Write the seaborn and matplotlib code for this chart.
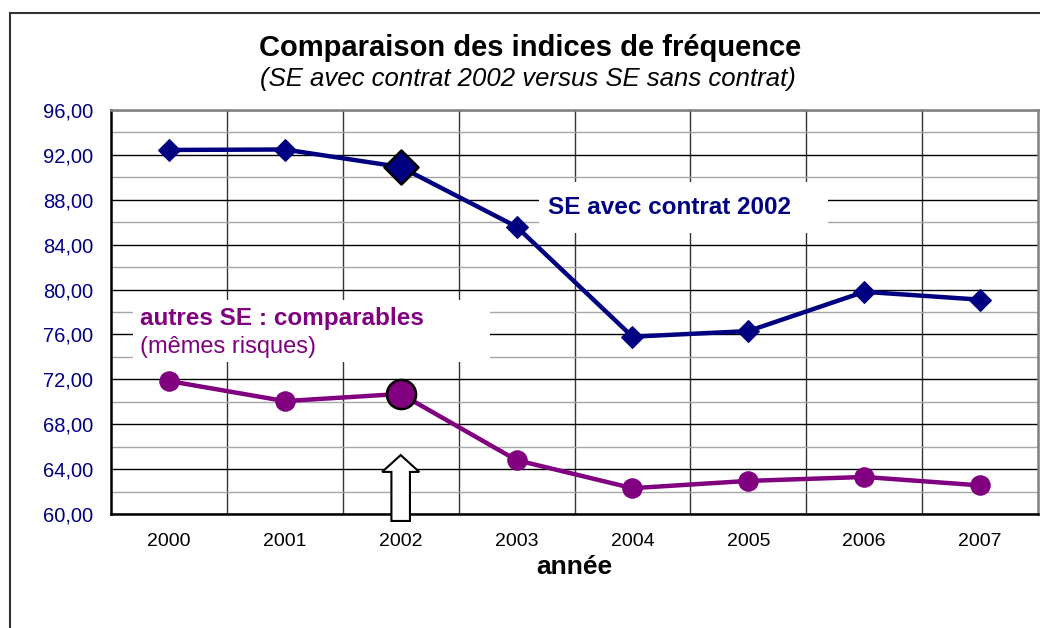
import numpy as np
import pandas as pd
import matplotlib
matplotlib.use("Agg")
import matplotlib.pyplot as plt
import matplotlib.patches as mpatches
from matplotlib.ticker import MultipleLocator, FixedLocator, FuncFormatter
import seaborn as sns

# data
annees = [2000, 2001, 2002, 2003, 2004, 2005, 2006, 2007]
se_avec_contrat = [92.44, 92.48, 90.92, 85.6, 75.8, 76.3, 79.8, 79.1]
autres_se = [71.85, 70.06, 70.7, 64.8, 62.3, 62.95, 63.3, 62.55]
annee_contrat = 2002

titre = "Comparaison des indices de fréquence"
sous_titre = "(SE avec contrat 2002 versus SE sans contrat)"
label_avec = "SE avec contrat 2002"
label_autres = "autres SE : comparables"
label_autres_2 = "(mêmes risques)"

BLEU = "#000080"
VIOLET = "#800080"

sns.set_style("white")
plt.rcParams["font.family"] = ["Liberation Sans", "DejaVu Sans"]
plt.rcParams["text.color"] = "black"
plt.rcParams["axes.labelcolor"] = "black"

df = pd.DataFrame({"annee": annees, "avec": se_avec_contrat, "autres": autres_se})

fig = plt.figure(figsize=(10.4, 6.28), dpi=100)
ax = fig.add_axes([111 / 1040, 1 - 514 / 628, 927 / 1040, 404 / 628])

sns.lineplot(data=df, x="annee", y="avec", color=BLEU, lw=3.2, marker="D",
             markersize=11, markeredgecolor=BLEU, ax=ax, zorder=4)
sns.lineplot(data=df, x="annee", y="autres", color=VIOLET, lw=3.2, marker="o",
             markersize=14, markeredgecolor=VIOLET, ax=ax, zorder=4)

# highlight the contract year
hl = df[df["annee"] == annee_contrat]
sns.scatterplot(x=hl["annee"], y=hl["avec"], marker="D", s=300, color=BLEU,
                edgecolor="black", linewidth=1.8, ax=ax, zorder=5)
sns.scatterplot(x=hl["annee"], y=hl["autres"], marker="o", s=440, color=VIOLET,
                edgecolor="black", linewidth=1.8, ax=ax, zorder=5)

ax.set_xlim(annees[0] - 0.5, annees[-1] + 0.5)
ax.set_ylim(60, 96)

# y axis: black major grid every 4, grey minor every 2
ax.yaxis.set_major_locator(MultipleLocator(4))
ax.yaxis.set_minor_locator(MultipleLocator(2))
ax.yaxis.set_major_formatter(FuncFormatter(lambda v, p: f"{v:.2f}".replace(".", ",")))
ax.grid(which="major", axis="y", color="black", lw=1.0, zorder=0)
ax.grid(which="minor", axis="y", color="#a6a6a6", lw=1.0, zorder=0)

# x axis: labels at centres, ticks and grid at boundaries
ax.xaxis.set_major_locator(FixedLocator(annees))
ax.xaxis.set_minor_locator(FixedLocator([a + 0.5 for a in annees[:-1]]))
ax.grid(which="minor", axis="x", color="#333333", lw=1.0, zorder=0)
ax.tick_params(axis="x", which="major", length=0, pad=14, labelsize=14, labelcolor="black")
ax.tick_params(axis="x", which="minor", length=6, width=1.2, color="black", direction="out")
ax.tick_params(axis="y", which="major", length=6, width=1.2, color="black",
               direction="out", pad=7, labelsize=14.5, labelcolor=BLEU)
ax.tick_params(axis="y", which="minor", length=0)
ax.set_axisbelow(True)

for s in ["left", "bottom"]:
    ax.spines[s].set_color("black")
    ax.spines[s].set_linewidth(1.8)
for s in ["top", "right"]:
    ax.spines[s].set_color("#808080")
    ax.spines[s].set_linewidth(1.8)

ax.set_ylabel("")
ax.set_xlabel("année", fontsize=19, fontweight="bold", labelpad=3)

# series labels in white boxes
ax.add_patch(mpatches.Rectangle((2003.19, 85.04), 2.5, 4.54, fc="white", ec="none", zorder=3))
ax.text(2003.27, 87.35, label_avec, color=BLEU, fontsize=17.5, fontweight="bold",
        ha="left", va="center", zorder=3.5)

ax.add_patch(mpatches.Rectangle((1999.69, 73.54), 3.08, 5.53, fc="white", ec="none", zorder=3))
ax.text(1999.75, 77.46, label_autres, color=VIOLET, fontsize=17.5,
        fontweight="bold", ha="left", va="center", zorder=3.5)
ax.text(1999.75, 74.88, label_autres_2, color=VIOLET, fontsize=17,
        ha="left", va="center", zorder=3.5)

# white arrow pointing at the contract year
fl = mpatches.FancyArrow(annee_contrat, 59.38, 0, 5.87, width=0.16, head_width=0.32,
                         head_length=1.5, length_includes_head=True, fc="white",
                         ec="black", lw=1.5, clip_on=False, zorder=6)
ax.add_patch(fl)

fig.text(530 / 1040, 1 - 48 / 628, titre, ha="center", va="center",
         fontsize=21, fontweight="bold")
fig.text(528 / 1040, 1 - 79 / 628, sous_titre, ha="center", va="center",
         fontsize=18.5, style="italic")

# outer chart frame
fig.add_artist(mpatches.Rectangle((10 / 1040, -0.1), 1.2, 1.1 - 13 / 628,
                                  transform=fig.transFigure, fill=False,
                                  ec="#333333", lw=1.5))

fig.savefig("out.png", dpi=100)
